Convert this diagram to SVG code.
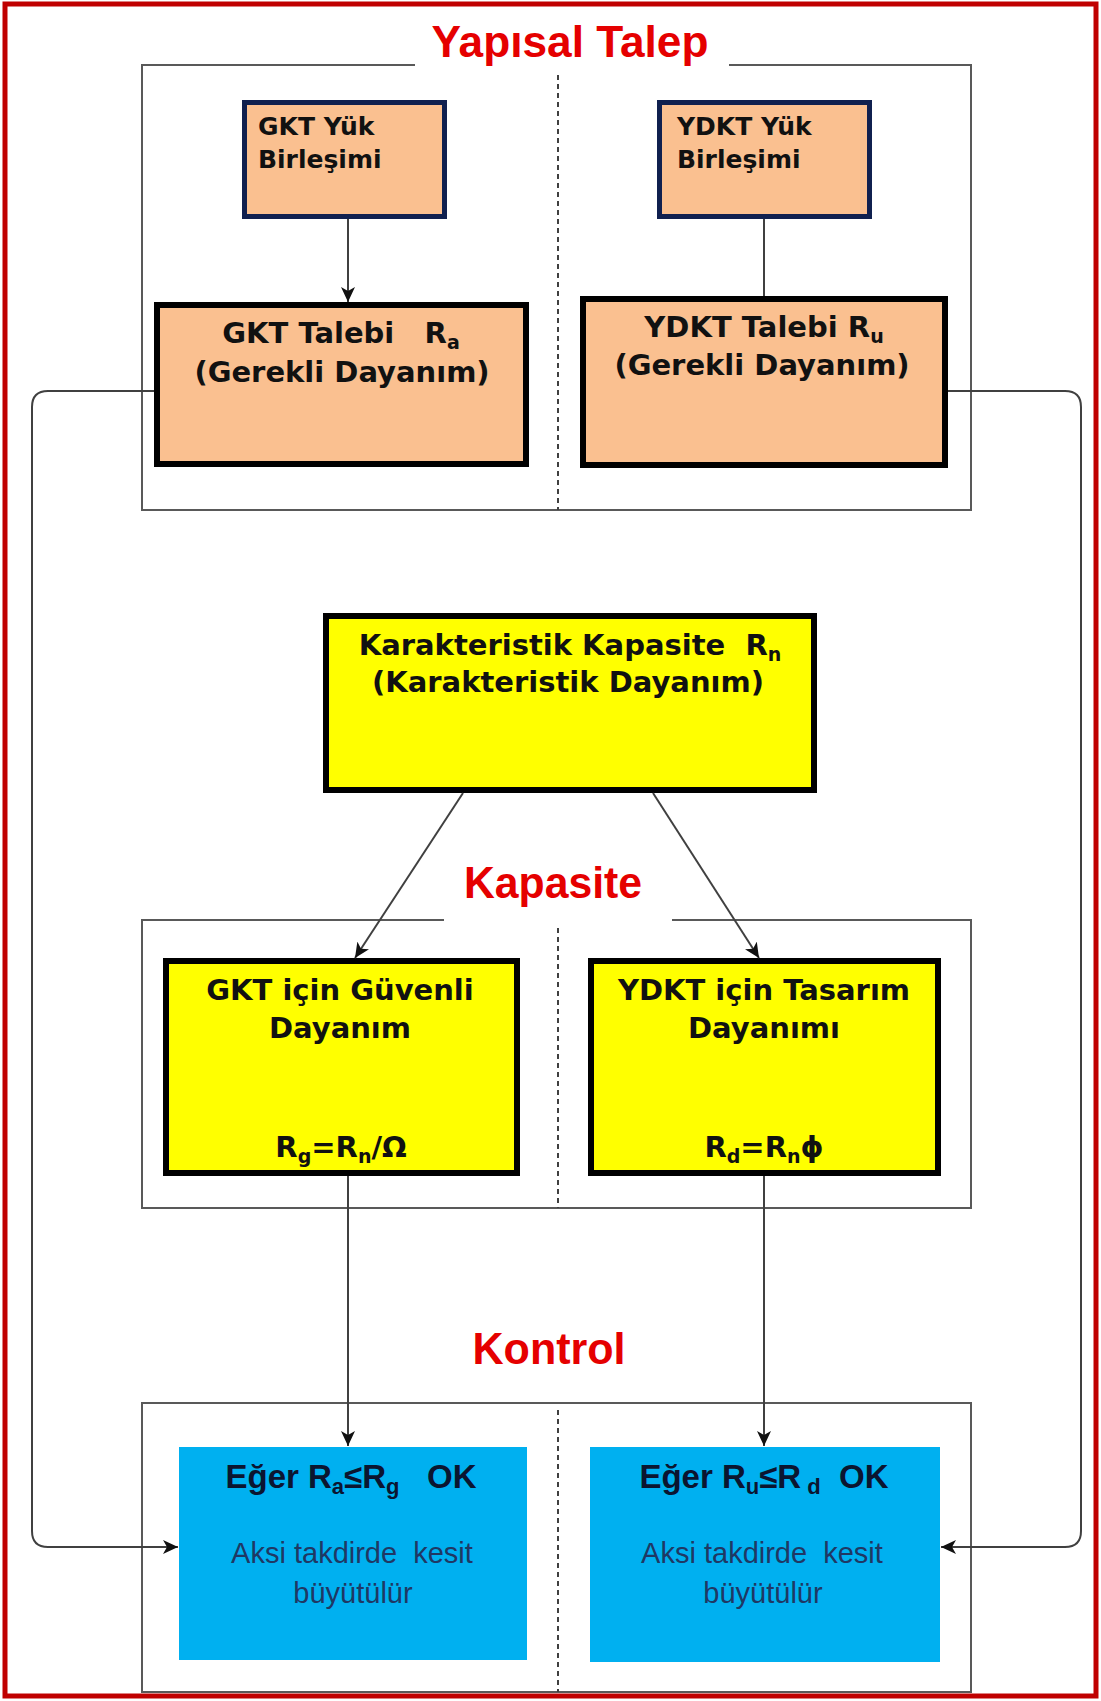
<svg xmlns="http://www.w3.org/2000/svg" width="1101" height="1701" viewBox="0 0 1101 1701">
<style>
.frame{fill:none;stroke:#C00000;stroke-width:5}
.grp{fill:none;stroke:#595959;stroke-width:2}
.dash{stroke:#404040;stroke-width:2;stroke-dasharray:5,4}
.title{font-family:"Liberation Sans",Arial,sans-serif;font-weight:bold;fill:#E50000;font-size:44px;text-anchor:middle}
.load{fill:#FAC090;stroke:#10204F;stroke-width:5}
.demand{fill:#FAC090;stroke:#000;stroke-width:6}
.cap{fill:#FFFF00;stroke:#000;stroke-width:6}
.chk{fill:#00B0F0}
.t{font-family:"DejaVu Sans",Verdana,sans-serif;font-weight:bold;fill:#111;font-size:29px;white-space:pre}
.m{text-anchor:middle}
.s{font-size:25px}
.e{font-family:"Liberation Sans",Arial,sans-serif;font-weight:bold;fill:#0B1530;font-size:33px;text-anchor:middle;white-space:pre}
.a{font-family:"Liberation Sans",Arial,sans-serif;fill:#1F3864;font-size:29px;text-anchor:middle;white-space:pre}
.c{stroke:#404040;stroke-width:2;fill:none}
</style>
<defs>
<marker id="arr" markerUnits="userSpaceOnUse" markerWidth="16" markerHeight="14" refX="15" refY="7" orient="auto">
<path d="M0,0 L15,7 L0,14 L4,7 z" fill="#111"/>
</marker>
</defs>
<rect class="frame" x="5" y="4" width="1091" height="1692"/>

<g id="groups">
<path class="grp" d="M415,65 H142 V510 H971 V65 H729"/>
<line class="dash" x1="558" y1="75" x2="558" y2="510"/>
<path class="grp" d="M444,920 H142 V1208 H971 V920 H672"/>
<line class="dash" x1="558" y1="928" x2="558" y2="1208"/>
<rect class="grp" x="142" y="1403" width="829" height="289"/>
<line class="dash" x1="558" y1="1410" x2="558" y2="1692"/>
<text class="title" x="570" y="57" textLength="277" lengthAdjust="spacingAndGlyphs">Yapısal Talep</text>
<text class="title" x="553" y="898" textLength="178" lengthAdjust="spacingAndGlyphs">Kapasite</text>
<text class="title" x="549" y="1364" textLength="153" lengthAdjust="spacingAndGlyphs">Kontrol</text>
</g>

<g id="gkt-yuk">
<rect class="load" x="244.5" y="102.5" width="200" height="114"/>
<text class="t s" x="258" y="135">GKT Yük</text>
<text class="t s" x="258" y="168">Birleşimi</text>
</g>
<g id="ydkt-yuk">
<rect class="load" x="659.5" y="102.5" width="210" height="114"/>
<text class="t s" x="677" y="135">YDKT Yük</text>
<text class="t s" x="677" y="168">Birleşimi</text>
</g>
<g id="gkt-talebi">
<rect class="demand" x="157" y="305" width="369" height="159"/>
<text class="t m" x="341" y="343">GKT Talebi   R<tspan font-size="19" dy="6">a</tspan></text>
<text class="t m" x="342" y="382">(Gerekli Dayanım)</text>
</g>
<g id="ydkt-talebi">
<rect class="demand" x="583" y="299" width="362" height="166"/>
<text class="t m" x="764" y="337">YDKT Talebi R<tspan font-size="19" dy="6">u</tspan></text>
<text class="t m" x="762" y="375">(Gerekli Dayanım)</text>
</g>
<g id="karakteristik">
<rect class="cap" x="326" y="616" width="488" height="174"/>
<text class="t m" x="570" y="655">Karakteristik Kapasite  R<tspan font-size="19" dy="6">n</tspan></text>
<text class="t m" x="568" y="692">(Karakteristik Dayanım)</text>
</g>
<g id="gkt-guvenli">
<rect class="cap" x="166" y="961" width="351" height="212"/>
<text class="t m" x="340" y="1000">GKT için Güvenli</text>
<text class="t m" x="340" y="1038">Dayanım</text>
<text class="t m" x="341" y="1157">R<tspan font-size="19" dy="6">g</tspan><tspan dy="-6">=R</tspan><tspan font-size="19" dy="6">n</tspan><tspan dy="-6">/Ω</tspan></text>
</g>
<g id="ydkt-tasarim">
<rect class="cap" x="591" y="961" width="347" height="212"/>
<text class="t m" x="764" y="1000">YDKT için Tasarım</text>
<text class="t m" x="764" y="1038">Dayanımı</text>
<text class="t m" x="764" y="1157">R<tspan font-size="19" dy="6">d</tspan><tspan dy="-6">=R</tspan><tspan font-size="19" dy="6">n</tspan><tspan dy="-6">ϕ</tspan></text>
</g>
<g id="kontrol-gkt">
<rect class="chk" x="179" y="1447" width="348" height="213"/>
<text class="e" x="351" y="1488">Eğer R<tspan font-size="22" dy="6">a</tspan><tspan dy="-6">≤R</tspan><tspan font-size="22" dy="6">g</tspan><tspan dy="-6">   OK</tspan></text>
<text class="a" x="352" y="1563">Aksi takdirde  kesit</text>
<text class="a" x="353" y="1603">büyütülür</text>
</g>
<g id="kontrol-ydkt">
<rect class="chk" x="590" y="1447" width="350" height="215"/>
<text class="e" x="764" y="1488">Eğer R<tspan font-size="22" dy="6">u</tspan><tspan dy="-6">≤R</tspan><tspan font-size="22" dy="6"> d</tspan><tspan dy="-6">  OK</tspan></text>
<text class="a" x="762" y="1563">Aksi takdirde  kesit</text>
<text class="a" x="763" y="1603">büyütülür</text>
</g>

<g id="connectors">
<path class="c" d="M348,219 V302" marker-end="url(#arr)"/>
<path class="c" d="M764,219 V296"/>
<path class="c" d="M463,793 L355,958" marker-end="url(#arr)"/>
<path class="c" d="M653,793 L759,958" marker-end="url(#arr)"/>
<path class="c" d="M348,1176 V1446" marker-end="url(#arr)"/>
<path class="c" d="M764,1176 V1446" marker-end="url(#arr)"/>
<path class="c" d="M154,391 H48 Q32,391 32,407 V1531 Q32,1547 48,1547 H178" marker-end="url(#arr)"/>
<path class="c" d="M948,391 H1065 Q1081,391 1081,407 V1531 Q1081,1547 1065,1547 H941" marker-end="url(#arr)"/>
</g>
</svg>
